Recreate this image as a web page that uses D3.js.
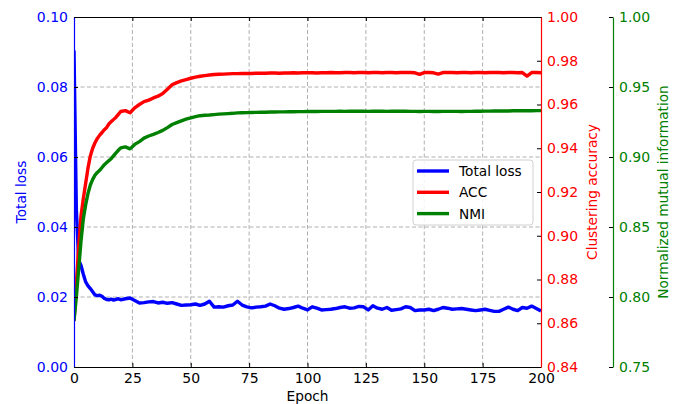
<!DOCTYPE html>
<html>
<head>
<meta charset="utf-8">
<script src="https://cdn.jsdelivr.net/npm/d3@7"></script>
<style>
    body { margin: 0; background: #fff; }
    svg { font-family: "DejaVu Sans", sans-serif; display: block; }
    .grid line { stroke: #b0b0b0; stroke-dasharray: 4, 2.5; stroke-width: 1; }
</style>
</head>
<body>
<div id="chart"></div>
<script>
// epochs: every epoch up to 20, then every second epoch
const epochs = d3.range(0, 21).concat(d3.range(22, 201, 2));

const totalLoss = [
    0.0904, 0.0450, 0.0305, 0.0290, 0.0265, 0.0243, 0.0232, 0.0224, 0.0215, 0.0206,
    0.0204, 0.0205, 0.0202, 0.0196, 0.0193, 0.0192, 0.0194, 0.0191, 0.0193, 0.0195,
    0.0192,
    0.0195, 0.0197, 0.0190, 0.0183, 0.0184, 0.0186, 0.0187, 0.0183, 0.0185, 0.0182,
    0.0184, 0.0180, 0.0176, 0.0177, 0.0178, 0.0180, 0.0176, 0.0180, 0.0188, 0.0171,
    0.0172, 0.0171, 0.0175, 0.0177, 0.0188, 0.0177, 0.0172, 0.0169, 0.0171, 0.0172,
    0.0174, 0.0180, 0.0175, 0.0168, 0.0165, 0.0167, 0.0170, 0.0174, 0.0168, 0.0163,
    0.0172, 0.0168, 0.0163, 0.0164, 0.0165, 0.0167, 0.0170, 0.0172, 0.0168, 0.0169,
    0.0173, 0.0172, 0.0163, 0.0175, 0.0168, 0.0165, 0.0170, 0.0162, 0.0164, 0.0166,
    0.0172, 0.0170, 0.0161, 0.0163, 0.0163, 0.0165, 0.0161, 0.0165, 0.0170, 0.0168,
    0.0165, 0.0166, 0.0167, 0.0165, 0.0163, 0.0161, 0.0163, 0.0165, 0.0162, 0.0159,
    0.0159, 0.0165, 0.0171, 0.0165, 0.0161, 0.0170, 0.0168, 0.0174, 0.0167, 0.0160
];

const acc = [
    0.861, 0.878, 0.895, 0.909, 0.917, 0.924, 0.931, 0.9365, 0.940, 0.9425,
    0.9445, 0.9460, 0.9472, 0.9485, 0.9495, 0.9512, 0.9522, 0.9532, 0.9542, 0.9555,
    0.9568,
    0.9572, 0.9562, 0.9585, 0.9600, 0.9613, 0.9620, 0.9630, 0.9638, 0.9650, 0.9670,
    0.9690, 0.9700, 0.9708, 0.9714, 0.9720, 0.9725, 0.9729, 0.9732, 0.9735, 0.9737,
    0.9738, 0.9739, 0.9740, 0.9741, 0.9741, 0.9742, 0.9742, 0.9742, 0.9743, 0.9743,
    0.9743, 0.9744, 0.9744, 0.9743, 0.9744, 0.9744, 0.9745, 0.9744, 0.9745, 0.9745,
    0.9745, 0.9744, 0.9745, 0.9745, 0.9746, 0.9745, 0.9745, 0.9746, 0.9746, 0.9745,
    0.9746, 0.9746, 0.9745, 0.9746, 0.9746, 0.9745, 0.9746, 0.9746, 0.9745, 0.9746,
    0.9746, 0.9746, 0.9745, 0.9738, 0.9746, 0.9746, 0.9745, 0.9739, 0.9746, 0.9746,
    0.9746, 0.9745, 0.9746, 0.9746, 0.9745, 0.9746, 0.9746, 0.9745, 0.9746, 0.9746,
    0.9746, 0.9745, 0.9746, 0.9746, 0.9745, 0.9746, 0.9730, 0.9746, 0.9746, 0.9745
];

const nmi = [
    0.783, 0.800, 0.820, 0.840, 0.856, 0.866, 0.874, 0.880, 0.884, 0.887,
    0.889, 0.8905, 0.8925, 0.8945, 0.8960, 0.8975, 0.8990, 0.9010, 0.9030, 0.9048,
    0.9065,
    0.9072, 0.9058, 0.9090, 0.9110, 0.9135, 0.9150, 0.9162, 0.9175, 0.9190, 0.9210,
    0.9232, 0.9245, 0.9258, 0.9270, 0.9280, 0.9288, 0.9295, 0.9298, 0.9300, 0.9303,
    0.9306, 0.9308, 0.9310, 0.9312, 0.9315, 0.9316, 0.9317, 0.9318, 0.9319, 0.9320,
    0.9320, 0.9321, 0.9321, 0.9322, 0.9322, 0.9323, 0.9323, 0.9324, 0.9324, 0.9325,
    0.9325, 0.9325, 0.9326, 0.9326, 0.9326, 0.9326, 0.9327, 0.9326, 0.9327, 0.9327,
    0.9327, 0.9327, 0.9326, 0.9327, 0.9327, 0.9327, 0.9326, 0.9327, 0.9327, 0.9327,
    0.9327, 0.9326, 0.9326, 0.9325, 0.9326, 0.9326, 0.9325, 0.9325, 0.9326, 0.9326,
    0.9326, 0.9326, 0.9325, 0.9326, 0.9326, 0.9327, 0.9327, 0.9328, 0.9328, 0.9329,
    0.9329, 0.9329, 0.9329, 0.9330, 0.9330, 0.9330, 0.9330, 0.9330, 0.9331, 0.9331
];

const epochTicks = [0, 25, 50, 75, 100, 125, 150, 175, 200];
const lossTicks = [0, 0.02, 0.04, 0.06, 0.08, 0.10];
const accTicks = [0.84, 0.86, 0.88, 0.90, 0.92, 0.94, 0.96, 0.98, 1.00];
const nmiTicks = [0.75, 0.80, 0.85, 0.90, 0.95, 1.00];

const seriesNames = ["Total loss", "ACC", "NMI"];
const seriesColors = ["#0000ff", "#ff0000", "#008000"];

let width = 683,
    height = 404,
    plotLeft = 74,
    plotRight = 541,
    plotTop = 17,
    plotBottom = 367,
    nmiAxisX = 613;

let svg = d3.select("#chart").append("svg")
    .attr("width", width)
    .attr("height", height);

svg.append("rect")
    .attr("width", width)
    .attr("height", height)
    .attr("fill", "#fff");

let x = d3.scaleLinear().domain([0, 200]).range([plotLeft, plotRight]);
let yLoss = d3.scaleLinear().domain([0, 0.10]).range([plotBottom, plotTop]);
let yAcc = d3.scaleLinear().domain([0.84, 1.00]).range([plotBottom, plotTop]);
let yNmi = d3.scaleLinear().domain([0.75, 1.00]).range([plotBottom, plotTop]);

svg.append("clipPath").attr("id", "plot-clip")
    .append("rect")
    .attr("x", plotLeft)
    .attr("y", plotTop)
    .attr("width", plotRight - plotLeft)
    .attr("height", plotBottom - plotTop);

// grid
let grid = svg.append("g").classed("grid", true);
grid.selectAll(".vgrid")
    .data(epochTicks.slice(1, -1))
    .enter().append("line")
    .attr("x1", d => x(d)).attr("x2", d => x(d))
    .attr("y1", plotTop).attr("y2", plotBottom);
grid.selectAll(".hgrid")
    .data(lossTicks.slice(1, -1))
    .enter().append("line")
    .attr("x1", plotLeft).attr("x2", plotRight)
    .attr("y1", d => yLoss(d)).attr("y2", d => yLoss(d));

// lines
let plot = svg.append("g").attr("clip-path", "url(#plot-clip)");

function drawLine(values, yScale, color) {
    let line = d3.line()
        .x((d, i) => x(epochs[i]))
        .y(d => yScale(d));
    plot.append("path")
        .datum(values)
        .attr("fill", "none")
        .attr("stroke", color)
        .attr("stroke-width", 3.4)
        .attr("stroke-linejoin", "round")
        .attr("d", line);
}

drawLine(totalLoss, yLoss, seriesColors[0]);
drawLine(acc, yAcc, seriesColors[1]);
drawLine(nmi, yNmi, seriesColors[2]);

// axes
function styleAxis(g, spineColor, textColor) {
    g.select(".domain").attr("stroke", spineColor).attr("stroke-width", 1.2);
    g.selectAll(".tick line").attr("stroke", "#000");
    g.selectAll(".tick text")
        .attr("fill", textColor)
        .style("font-size", "14px")
        .style("font-family", "DejaVu Sans");
}

let fmt2 = d3.format(".2f");

svg.append("g")
    .attr("transform", "translate(0," + plotTop + ")")
    .call(d3.axisTop(x).tickValues(epochTicks).tickSize(-4).tickSizeOuter(0).tickFormat(""))
    .call(g => styleAxis(g, "#000", "#000"));

svg.append("g")
    .attr("transform", "translate(0," + plotBottom + ")")
    .call(d3.axisBottom(x).tickValues(epochTicks).tickSize(-4).tickSizeOuter(0).tickPadding(6))
    .call(g => styleAxis(g, "#000", "#000"));

svg.append("g")
    .attr("transform", "translate(" + plotLeft + ",0)")
    .call(d3.axisLeft(yLoss).tickValues(lossTicks).tickSize(-4).tickSizeOuter(0).tickPadding(6).tickFormat(fmt2))
    .call(g => styleAxis(g, seriesColors[0], seriesColors[0]));

svg.append("g")
    .attr("transform", "translate(" + plotRight + ",0)")
    .call(d3.axisRight(yAcc).tickValues(accTicks).tickSize(-4).tickSizeOuter(0).tickPadding(6).tickFormat(fmt2))
    .call(g => styleAxis(g, seriesColors[1], seriesColors[1]));

svg.append("g")
    .attr("transform", "translate(" + nmiAxisX + ",0)")
    .call(d3.axisRight(yNmi).tickValues(nmiTicks).tickSize(-4).tickSizeOuter(0).tickPadding(6).tickFormat(fmt2))
    .call(g => styleAxis(g, seriesColors[2], seriesColors[2]));

// axis labels
let midY = (plotTop + plotBottom) / 2;

svg.append("text")
    .attr("transform", "translate(" + ((plotLeft + plotRight) / 2) + ",401)")
    .attr("text-anchor", "middle")
    .style("font-size", "13.7px")
    .text("Epoch");

let yLabels = [
    { text: "Total loss", x: 26, color: seriesColors[0] },
    { text: "Clustering accuracy", x: 597, color: seriesColors[1] },
    { text: "Normalized mutual information", x: 668, color: seriesColors[2] }
];

svg.selectAll(".ylabel")
    .data(yLabels)
    .enter().append("text")
    .classed("ylabel", true)
    .attr("transform", d => "translate(" + d.x + "," + midY + ") rotate(-90)")
    .attr("text-anchor", "middle")
    .attr("fill", d => d.color)
    .style("font-size", "13.7px")
    .text(d => d.text);

// legend
let legend = svg.append("g").attr("transform", "translate(413,160)");

legend.append("rect")
    .attr("width", 120)
    .attr("height", 65)
    .attr("rx", 3)
    .attr("fill", "#fff")
    .attr("fill-opacity", 0.85)
    .attr("stroke", "#d0d0d0");

let item = legend.selectAll(".item")
    .data(seriesNames)
    .enter().append("g")
    .classed("item", true)
    .attr("transform", (d, i) => "translate(0," + (11 + i * 21.3) + ")");

item.append("line")
    .attr("x1", 4).attr("x2", 36)
    .attr("stroke", (d, i) => seriesColors[i])
    .attr("stroke-width", 3.4);

item.append("text")
    .attr("x", 46)
    .attr("dy", "0.36em")
    .style("font-size", "13.7px")
    .text(d => d);
</script>
</body>
</html>
